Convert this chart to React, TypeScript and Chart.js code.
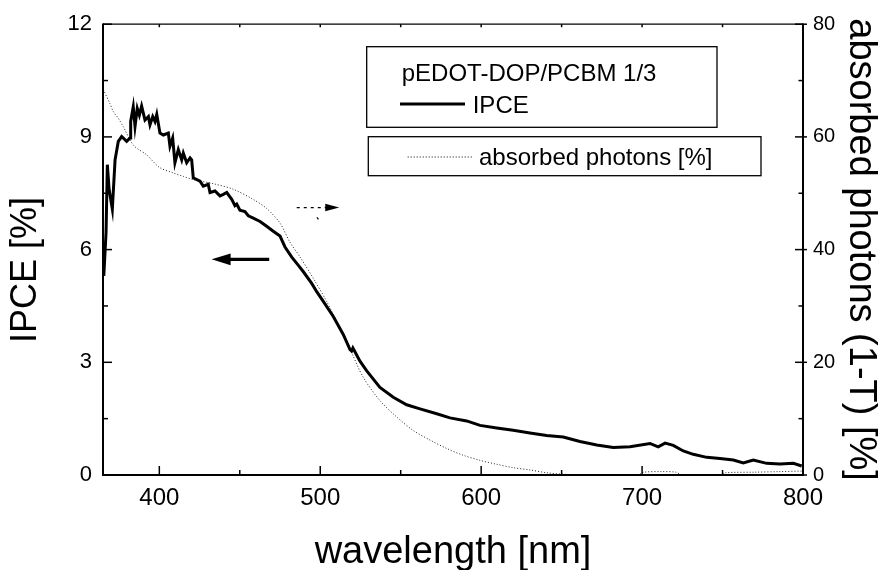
import React, { useEffect, useRef } from "react";
import { Chart, registerables } from "chart.js";

Chart.register(...registerables);

// ---------- data ----------
const ipceWavelength = [
  365.5, 366.9, 367.7, 368.8, 370.8, 372.5, 374.5, 376.6, 379.7, 381.8, 382.2, 383.8, 384.9, 386.3,
  387.6, 389.0, 391.1, 393.2, 394.2, 395.9, 397.3, 398.4, 400.4, 402.5, 405.6, 406.6, 408.3, 409.7,
  411.8, 413.9, 414.9, 417.0, 419.1, 420.1, 421.1, 425.3, 427.3, 430.4, 431.5, 434.6, 437.7, 439.8,
  441.9, 445.0, 447.0, 448.1, 450.1, 453.2, 455.3, 458.4, 462.6, 466.7, 470.8, 475.0, 478.1, 482.3,
  486.4, 489.5, 494.7, 497.8, 501.9, 508.1, 514.3, 518.5, 519.5, 520.3, 524.7, 528.9, 537.1, 545.4,
  553.7, 562.0, 572.4, 580.6, 591.0, 599.3, 609.7, 619.9, 630.3, 640.7, 651.0, 661.4, 671.8, 682.1,
  692.5, 704.9, 710.0, 714.3, 719.4, 725.6, 731.8, 740.2, 748.4, 756.7, 762.9, 769.1, 777.4, 785.7,
  794.0, 799.2,
];
const ipceValues = [
  5.3, 6.46, 8.26, 7.6, 7.08, 8.39, 8.88, 9.01, 8.88, 8.97, 9.41, 9.8, 9.28, 9.76,
  9.58, 9.82, 9.45, 9.54, 9.32, 9.54, 9.41, 9.6, 9.1, 9.05, 9.1, 8.75, 8.97, 8.31,
  8.66, 8.39, 8.57, 8.31, 8.44, 8.39, 7.91, 7.82, 7.69, 7.74, 7.52, 7.56, 7.43, 7.47,
  7.52, 7.34, 7.17, 7.21, 7.05, 7.01, 6.9, 6.84, 6.75, 6.62, 6.49, 6.36, 6.07, 5.8,
  5.58, 5.41, 5.1, 4.88, 4.62, 4.22, 3.74, 3.34, 3.3, 3.38, 3.03, 2.77, 2.33, 2.07,
  1.87, 1.76, 1.63, 1.52, 1.44, 1.32, 1.25, 1.19, 1.12, 1.05, 1.01, 0.89, 0.8, 0.73,
  0.75, 0.84, 0.75, 0.85, 0.79, 0.64, 0.55, 0.47, 0.44, 0.4, 0.32, 0.4, 0.31, 0.29,
  0.31, 0.24,
];

const absWavelength = [
  365.2, 369.3, 371.4, 374.5, 377.6, 384.0, 392.2, 400.0, 408.7, 414.9, 421.1, 433.5, 446.0, 458.4,
  466.7, 475.0, 481.2, 487.4, 495.7, 504.0, 510.2, 519.5, 526.8, 537.1, 547.5, 557.8, 568.2, 578.6,
  588.9, 599.3, 609.7, 619.9, 630.3, 640.7, 653.2, 680, 698, 701, 712, 721, 725, 748, 752, 770, 785, 800,
];
const absValues = [
  68.4, 65.9, 64.5, 63.3, 61.8, 58.5, 56.8, 54.6, 53.6, 53.0, 52.4, 51.7, 50.7, 48.9,
  47.3, 44.7, 41.3, 38.7, 34.9, 30.8, 27.3, 21.7, 17.3, 13.2, 10.3, 7.9, 6.2, 4.7,
  3.5, 2.6, 1.9, 1.3, 0.9, 0.4, 0.1, 0.0, 0.1, 0.5, 0.6, 0.5, 0.0, 0.0, 0.4, 0.5, 0.6, 0.7,
];

const xTicks = [400, 500, 600, 700, 800];
const xMinorTicks = [450, 550, 650, 750];
const yTicks = [0, 3, 6, 9, 12];
const yMinorTicks = [1.5, 4.5, 7.5, 10.5];
const y2Ticks = [0, 20, 40, 60, 80];
const y2MinorTicks = [10, 30, 50, 70];

const legendTitle = "pEDOT-DOP/PCBM 1/3";
const ipceLabel = "IPCE";
const absLabel = "absorbed photons [%]";
const xTitle = "wavelength [nm]";
const yTitle = "IPCE [%]";
const y2Title = "absorbed photons (1-T) [%]";

// arrows (data coordinates on wavelength / IPCE axes)
const solidArrow = { from: 468.3, to: 432.5, y: 5.74 };
const dashedArrow = { from: 485.4, to: 511.8, y: 7.12 };
const strayDot = { x: 498.4, y: 6.83 };

const FONT = '"Liberation Sans", Arial, Helvetica, sans-serif';

const decorPlugin = {
  id: "decor",
  afterDraw(chart: any) {
    const ctx = chart.ctx as CanvasRenderingContext2D;
    const { left, right, top, bottom } = chart.chartArea;
    const xs = chart.scales.x;
    const ys = chart.scales.y;
    const y2s = chart.scales.y2;
    ctx.save();
    ctx.strokeStyle = "#000";
    ctx.fillStyle = "#000";
    const line = (x1: number, y1: number, x2: number, y2: number) => {
      ctx.beginPath();
      ctx.moveTo(x1, y1);
      ctx.lineTo(x2, y2);
      ctx.stroke();
    };
    // frame
    ctx.lineWidth = 1.3;
    line(left, top, right, top);
    ctx.lineWidth = 2;
    line(left, top - 0.6, left, bottom + 1);
    line(left - 1, bottom, right + 1, bottom);
    line(right, top - 0.6, right, bottom + 1);

    // ticks (inward)
    ctx.lineWidth = 1.5;
    xTicks.forEach((v) => {
      const p = xs.getPixelForValue(v);
      line(p, bottom + 1, p, bottom - 9);
      line(p, top, p, top + 3);
    });
    xMinorTicks.forEach((v) => {
      const p = xs.getPixelForValue(v);
      line(p, bottom, p, bottom - 5);
      line(p, top, p, top + 3);
    });
    yTicks.forEach((v) => {
      const p = ys.getPixelForValue(v);
      line(left, p, left + 9, p);
    });
    yMinorTicks.forEach((v) => {
      const p = ys.getPixelForValue(v);
      line(left, p, left + 5, p);
    });
    y2Ticks.forEach((v) => {
      const p = y2s.getPixelForValue(v);
      line(right - 8, p, right + 4, p);
    });
    y2MinorTicks.forEach((v) => {
      const p = y2s.getPixelForValue(v);
      line(right - 4.5, p, right, p);
    });

    // arrows
    {
      const x0 = xs.getPixelForValue(solidArrow.from);
      const x1 = xs.getPixelForValue(solidArrow.to);
      const y = ys.getPixelForValue(solidArrow.y);
      ctx.lineWidth = 3.3;
      line(x0, y, x1 + 14, y);
      ctx.beginPath();
      ctx.moveTo(x1, y);
      ctx.lineTo(x1 + 19, y - 5.8);
      ctx.lineTo(x1 + 19, y + 5.8);
      ctx.closePath();
      ctx.fill();
    }
    {
      const x0 = xs.getPixelForValue(dashedArrow.from);
      const x1 = xs.getPixelForValue(dashedArrow.to);
      const y = ys.getPixelForValue(dashedArrow.y);
      ctx.lineWidth = 1.3;
      ctx.setLineDash([3, 4]);
      line(x0, y, x1 - 12, y);
      ctx.setLineDash([]);
      ctx.beginPath();
      ctx.moveTo(x1, y);
      ctx.lineTo(x1 - 14, y - 3.8);
      ctx.lineTo(x1 - 14, y + 3.8);
      ctx.closePath();
      ctx.fill();
      const dx = xs.getPixelForValue(strayDot.x);
      const dy = ys.getPixelForValue(strayDot.y);
      ctx.lineWidth = 1.2;
      line(dx - 0.8, dy - 1, dx + 0.8, dy + 1);
    }

    // legend boxes
    ctx.lineWidth = 1.3;
    ctx.strokeRect(366.7, 46.7, 350.3, 80.6);
    ctx.strokeRect(368.3, 136.7, 392.7, 39);
    ctx.font = `24px ${FONT}`;
    ctx.textAlign = "left";
    ctx.textBaseline = "alphabetic";
    ctx.fillText(legendTitle, 401.7, 81);
    ctx.lineWidth = 3.2;
    line(400, 104, 465, 104);
    ctx.fillText(ipceLabel, 472.7, 113.3);
    ctx.lineWidth = 1;
    ctx.setLineDash([1, 2]);
    line(407.7, 157, 471.7, 157);
    ctx.setLineDash([]);
    ctx.fillText(absLabel, 479, 165);

    // left axis title
    ctx.font = `36px ${FONT}`;
    ctx.translate(26, 270);
    ctx.rotate(-Math.PI / 2);
    ctx.textAlign = "center";
    ctx.textBaseline = "middle";
    ctx.fillText(yTitle, 0, 0);
    ctx.restore();
  },
};

export default function App() {
  const ref = useRef<HTMLCanvasElement>(null);
  useEffect(() => {
    if (!ref.current) return;
    Chart.defaults.font.family = FONT;
    Chart.defaults.color = "#000";
    const chart = new Chart(ref.current, {
      type: "line",
      data: {
        datasets: [
          {
            label: ipceLabel,
            data: ipceWavelength.map((x, i) => ({ x, y: ipceValues[i] })),
            borderColor: "#000",
            borderWidth: 3,
            pointRadius: 0,
            tension: 0,
            yAxisID: "y",
          },
          {
            label: absLabel,
            data: absWavelength.map((x, i) => ({ x, y: absValues[i] })),
            borderColor: "#222",
            borderWidth: 1,
            borderDash: [1, 2],
            pointRadius: 0,
            tension: 0.3,
            yAxisID: "y2",
          },
        ],
      },
      plugins: [decorPlugin],
      options: {
        animation: false,
        responsive: false,
        devicePixelRatio: 1,
        layout: { padding: { top: 20, left: 0, right: 0, bottom: 0 } },
        plugins: { legend: { display: false }, tooltip: { enabled: false } },
        scales: {
          x: {
            type: "linear",
            min: 365,
            max: 800,
            grid: { display: false, drawTicks: false, tickLength: 0 },
            border: { display: false },
            afterBuildTicks: (s: any) => {
              s.ticks = xTicks.map((v) => ({ value: v }));
            },
            afterFit: (s: any) => {
              s.height = 95;
            },
            ticks: { font: { size: 24 }, padding: 9, color: "#000", maxRotation: 0 },
            title: {
              display: true,
              text: xTitle,
              font: { size: 38 },
              color: "#000",
              padding: { top: 0, bottom: -5 },
            },
          },
          y: {
            type: "linear",
            position: "left",
            min: 0,
            max: 12,
            grid: { display: false, drawTicks: false, tickLength: 0 },
            border: { display: false },
            afterBuildTicks: (s: any) => {
              s.ticks = yTicks.map((v) => ({ value: v }));
            },
            afterFit: (s: any) => {
              s.width = 103;
            },
            ticks: { font: { size: 22 }, padding: 11, color: "#000" },
          },
          y2: {
            type: "linear",
            position: "right",
            min: 0,
            max: 80,
            grid: { display: false, drawTicks: false, tickLength: 0 },
            border: { display: false },
            afterBuildTicks: (s: any) => {
              s.ticks = y2Ticks.map((v) => ({ value: v }));
            },
            afterFit: (s: any) => {
              s.width = 80;
            },
            ticks: { font: { size: 20 }, padding: 10, color: "#000" },
            title: {
              display: true,
              text: y2Title,
              font: { size: 38 },
              color: "#000",
              padding: { top: 0, bottom: 0 },
            },
          },
        },
      },
    } as any);
    return () => chart.destroy();
  }, []);
  return (
    <div style={{ position: "fixed", left: 0, top: 0, width: 883, height: 570, background: "#fff" }}>
      <canvas ref={ref} width={883} height={570} style={{ display: "block", width: 883, height: 570 }} />
    </div>
  );
}
